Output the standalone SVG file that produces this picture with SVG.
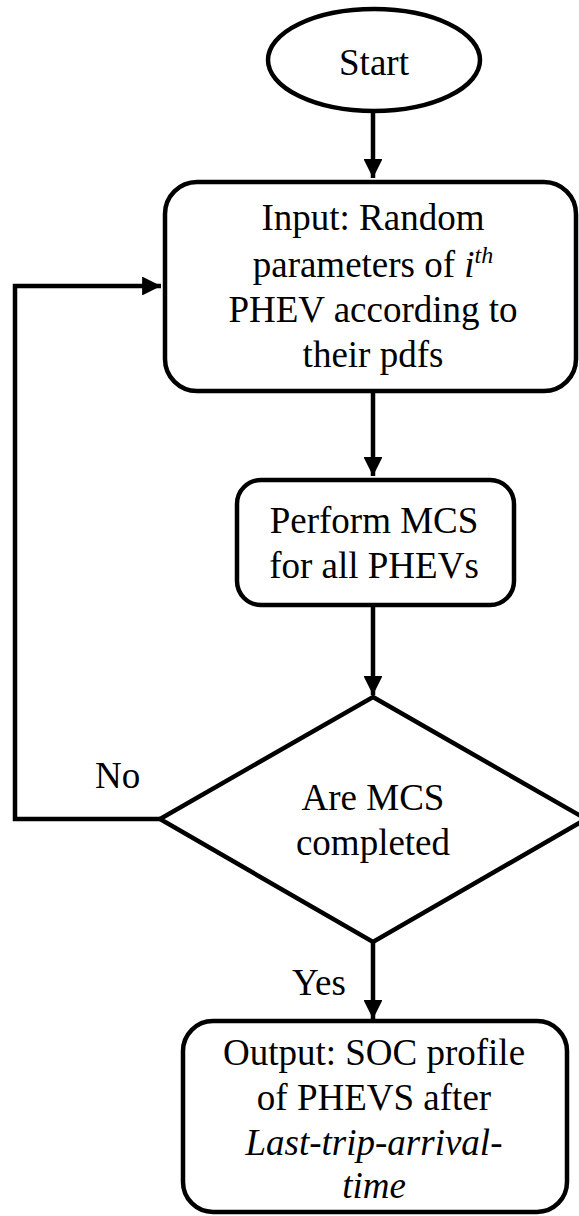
<svg xmlns="http://www.w3.org/2000/svg" width="579" height="1216" viewBox="0 0 579 1216">
<defs>
<style>
.shape{fill:#fff;stroke:#000;stroke-width:4.5}
.line{fill:none;stroke:#000;stroke-width:4.5}
.t{font-family:"Liberation Serif","Times New Roman",Times,Tinos,"Noto Serif","DejaVu Serif",FreeSerif,serif;font-size:37px;fill:#000}
.c{text-anchor:middle}
.i{font-style:italic}
</style>
<marker id="ah" viewBox="0 0 10 10" refX="10" refY="5" markerWidth="4.2" markerHeight="4.2" markerUnits="strokeWidth" orient="auto">
<path d="M0,0 L10,5 L0,10 z" fill="#000"/>
</marker>
</defs>
<rect width="579" height="1216" fill="#fff"/>
<g id="connectors">
<line class="line" x1="373" y1="111" x2="373" y2="178" marker-end="url(#ah)"/>
<line class="line" x1="373" y1="392" x2="373" y2="476" marker-end="url(#ah)"/>
<line class="line" x1="373" y1="606" x2="373" y2="695" marker-end="url(#ah)"/>
<line class="line" x1="373" y1="942" x2="373" y2="1019" marker-end="url(#ah)"/>
<polyline class="line" points="160,819 15,819 15,286 161,286" marker-end="url(#ah)"/>
<text class="t" x="95" y="788">No</text>
<text class="t" x="292" y="995">Yes</text>
</g>
<g id="start">
<ellipse class="shape" cx="374" cy="60" rx="106" ry="51"/>
<text class="t c" x="374" y="75">Start</text>
</g>
<g id="input">
<rect class="shape" x="165" y="182" width="411" height="209" rx="32" ry="32"/>
<text class="t c" x="373" y="230">Input: Random</text>
<text class="t c" x="373" y="277">parameters of <tspan class="i">i</tspan><tspan class="i" font-size="24" dy="-14">th</tspan></text>
<text class="t c" x="373" y="322">PHEV according to</text>
<text class="t c" x="373" y="367">their pdfs</text>
</g>
<g id="perform">
<rect class="shape" x="237" y="480" width="277" height="125" rx="24" ry="24"/>
<text class="t c" x="374" y="533">Perform MCS</text>
<text class="t c" x="374" y="578">for all PHEVs</text>
</g>
<g id="decision">
<polygon class="shape" points="373,697 586,819 373,942 160,819"/>
<text class="t c" x="373" y="810">Are MCS</text>
<text class="t c" x="373" y="855">completed</text>
</g>
<g id="output">
<rect class="shape" x="183" y="1021" width="384" height="191" rx="30" ry="30"/>
<text class="t c" x="374" y="1065">Output: SOC profile</text>
<text class="t c" x="374" y="1110">of PHEVS after</text>
<text class="t c i" x="374" y="1155">Last-trip-arrival-</text>
<text class="t c i" x="374" y="1198">time</text>
</g>
</svg>
